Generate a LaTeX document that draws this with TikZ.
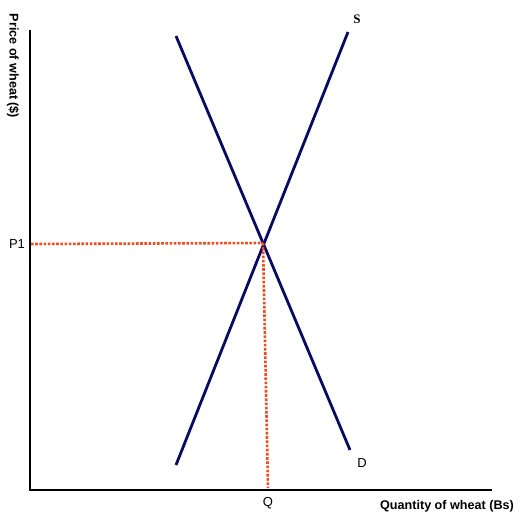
\documentclass[tikz,border=0pt]{standalone}
\usepackage{fontspec}
\setmainfont{Liberation Sans}
\newfontfamily\serifbold{Liberation Serif}
\usetikzlibrary{positioning}
\definecolor{navycurve}{RGB}{10,10,100}
\definecolor{guidered}{RGB}{240,75,25}

\begin{document}
\begin{tikzpicture}[
    x=1pt, y=-1pt,
    axis/.style={line width=2.6pt, black},
    curve/.style={line width=2.8pt, navycurve},
    guide/.style={line width=2.6pt, guidered, dash pattern=on 2.6pt off 1.6pt},
    lbl/.style={font=\fontsize{13}{15}\selectfont, inner sep=1pt},
    axislbl/.style={font=\fontsize{12.6}{15}\selectfont\bfseries, inner sep=1pt}
  ]

    \useasboundingbox[fill=white] (0,0) rectangle (520,520);

    % Axes
    \coordinate (origin) at (30,490);
    \coordinate (ytop) at (30,30);
    \coordinate (xend) at (492,490);
    \draw[axis] (ytop) -- (origin) -- (xend);

    % Curves
    \coordinate (d1) at (176,36);
    \coordinate (d2) at (350,450);
    \coordinate (s1) at (176,465);
    \coordinate (s2) at (348,32);
    \draw[curve] (d1) -- (d2);
    \draw[curve] (s1) -- (s2);

    % Equilibrium guides
    \coordinate (eq) at (263,243);
    \coordinate (p1) at (31,244);
    \coordinate (q) at (268,488);
    \draw[guide] (p1) -- (eq);
    \draw[guide] (eq) -- (q);

    % Labels
    \node[font=\fontsize{13}{15}\selectfont\serifbold\bfseries, inner sep=1pt] (slbl) at (357,19) {S};
    \node[lbl] (dlbl) at (362,463) {D};
    \node[lbl] (plbl) at (17,244) {P1};
    \node[lbl] (qlbl) at (268,503) {Q};
    \node[axislbl] (xlbl) at (447,506) {Quantity of wheat (Bs)};
    \node[axislbl, rotate=-90] (ylbl) at (13,66) {Price of wheat (\$)};

  \end{tikzpicture}
\end{document}
